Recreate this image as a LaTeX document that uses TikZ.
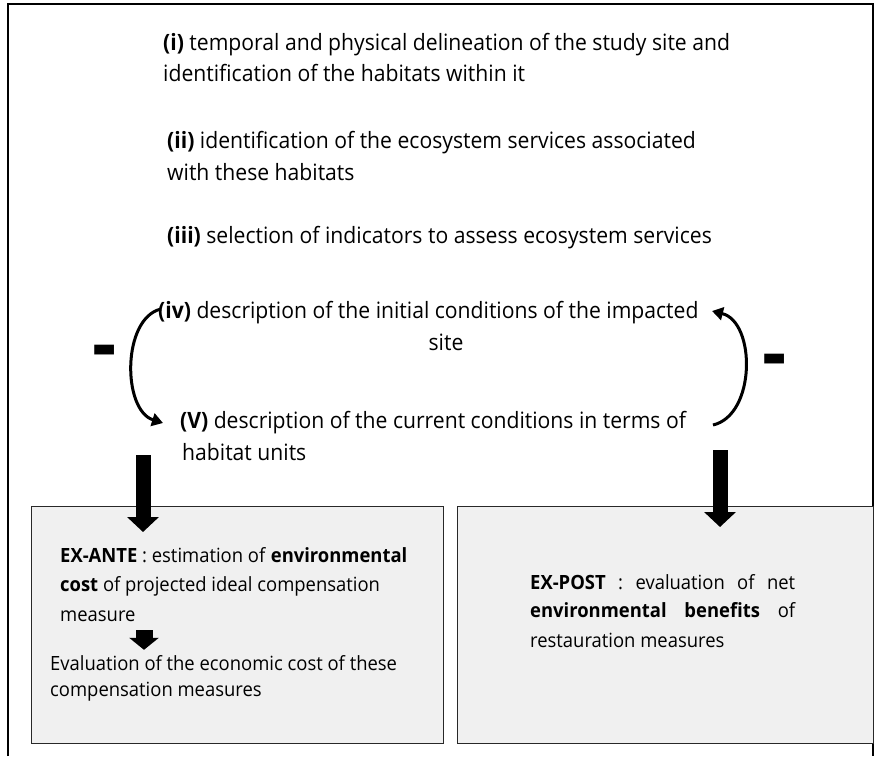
\documentclass[tikz,border=0pt]{standalone}
\usepackage{fontspec}
\setmainfont{Open Sans}[FakeStretch=0.94]
\usetikzlibrary{arrows.meta}
\definecolor{boxgray}{RGB}{240,240,240}
\definecolor{boxline}{RGB}{40,40,40}
\tikzset{
  steptext/.style={anchor=west,inner sep=0pt,text height=16pt,text depth=5pt,font=\fontsize{22.5}{27}\selectfont},
  boxtext/.style={anchor=west,inner sep=0pt,text height=14pt,text depth=4pt,font=\fontsize{19.6}{23}\selectfont},
  framebox/.style={draw=boxline,line width=1.2pt,fill=boxgray,inner sep=0pt,anchor=north west},
  bendarrow/.style={line width=3pt,-{Triangle[length=11pt,width=13pt]}},
  bigarrow/.style={line width=15pt,-{Triangle[length=15pt,width=31pt]}},
  smallarrow/.style={line width=17pt,-{Triangle[length=12pt,width=29pt]}},
  minus/.style={font=\fontsize{80}{80}\selectfont\bfseries,inner sep=0pt}
}
\begin{document}
\begin{tikzpicture}[x=1pt,y=-1pt]
  \useasboundingbox (0,0) rectangle (877,756);
  % outer frame
  \draw[line width=2.5pt] (8,756) -- (8,4) -- (873,4) -- (873,756);
  % the two result boxes
  \node[framebox,minimum width=412pt,minimum height=237pt] (ante) at (31,506) {};
  \node[framebox,minimum width=416pt,minimum height=237pt] (post) at (457,506) {};
  % steps
  \node[steptext] (i1) at (163,45) {\textbf{(i)} temporal and physical delineation of the study site and};
  \node[steptext] (i2) at (163,76) {identification of the habitats within it};
  \node[steptext] (ii1) at (167,143) {\textbf{(ii)} identification of the ecosystem services associated};
  \node[steptext] (ii2) at (167,175) {with these habitats};
  \node[steptext] (iii) at (167,238) {\textbf{(iii)} selection of indicators to assess ecosystem services};
  \node[steptext] (iv1) at (158,313) {\textbf{(iv)} description of the initial conditions of the impacted};
  \node[steptext,anchor=center] (iv2) at (446,345) {site};
  \node[steptext] (v1) at (180,423) {\textbf{(V)} description of the current conditions in terms of};
  \node[steptext] (v2) at (182,455) {habitat units};
  \node[minus] (minusL) at (105,358) {-};
  \node[minus] (minusR) at (775,367) {-};
  % box texts
  \node[boxtext] (ante1) at (60,557) {\textbf{EX-ANTE} : estimation of \textbf{environmental}};
  \node[boxtext] (ante2) at (60,586) {\textbf{cost} of projected ideal compensation};
  \node[boxtext] (ante3) at (60,616) {measure};
  \node[boxtext] (ante4) at (50,665) {Evaluation of the economic cost of these};
  \node[boxtext] (ante5) at (50,691) {compensation measures};
  \node[boxtext] (post1) at (530,584) {\makebox[265pt][s]{\textbf{EX-POST} : evaluation of net}};
  \node[boxtext] (post2) at (530,612) {\makebox[265pt][s]{\textbf{environmental} \textbf{benefits} of}};
  \node[boxtext] (post3) at (530,642) {restauration measures};
  % arrows
  \coordinate (ivR) at (712,311);
  \coordinate (vR) at (713,425);
  \coordinate (anteIn) at (143,455);
  \coordinate (postIn) at (720,450);
  \draw[bendarrow] ([xshift=3pt,yshift=4pt]iv1.west) .. controls (122,318) and (122,410) .. ([xshift=-17pt]v1.west);
  \draw[bendarrow] (vR) .. controls (756,415) and (756,322) .. (ivR);
  \draw[bigarrow] (anteIn) -- ([yshift=-26pt]anteIn |- ante.north);
  \draw[bigarrow] (postIn) -- ([yshift=-21pt]postIn |- post.north);
  \draw[smallarrow] ([xshift=84pt,yshift=-5pt]ante3.south west) -- ([xshift=94pt,yshift=6pt]ante4.north west);
\end{tikzpicture}
\end{document}
